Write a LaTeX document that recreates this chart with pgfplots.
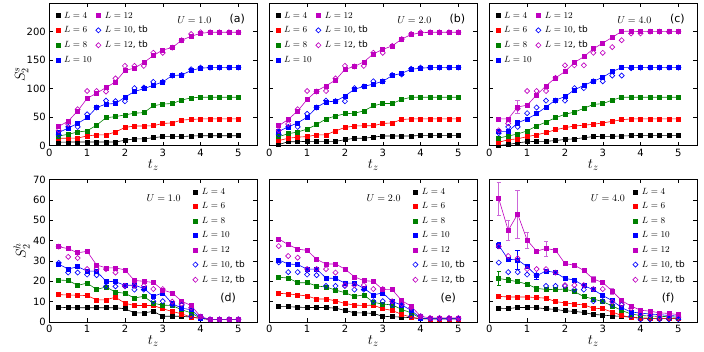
\documentclass[border=0pt]{standalone}
\usepackage{fontspec}
\setmainfont{DejaVu Sans}
\usepackage{pgfplots}
\usepackage{pgfplotstable}
\pgfplotsset{compat=1.18}

\definecolor{mg}{rgb}{0,0.5,0}
\definecolor{mm}{rgb}{0.75,0,0.75}
\definecolor{errm}{rgb}{0.8,0.4,0.85}

% columns: t, L=4, L=6, L=8, L=10, L=12, L=10 tb, L=12 tb
\pgfplotstableread{
t    a4   a6   a8   a10  a12   b10  b12
0.25 6    13   17   23   34    19   27
0.50 6.5  13   20   31   43    33   38
0.75 6.5  13.5 24   39   61    33   64
1.00 6.5  17   26   49   83    55   96
1.25 6.5  19   36   67   92    67   96
1.50 6.5  19   49   73   102   79   95
1.75 6.5  24   51   74   112   78   118
2.00 9.5  32   54   85   132   78   140
2.25 12   34.5 57   95   136   101  140
2.50 12   34.5 58   100  146   102  140
2.75 14   35   70   106  158   112  163
3.00 16   39   73   112  168   112  163
3.25 16   40   74   123  172   123  172
3.50 16   45   80   124  185   124  185
3.75 17   46   84   132  192   134  196
4.00 17.5 47   85   136  197   137  199
4.25 17.5 47   85   137  199   137  199
4.50 17.5 47   85   137  199   137  199
4.75 17.5 47   85   137  199   137  199
5.00 17.5 47   85   137  199   137  199
}\tabA

\pgfplotstableread{
t    a4   a6   a8   a10  a12   b10  b12
0.25 2    9    16   25   35    20   27
0.50 7    13   21   33   46    33   38
0.75 7    15   24   40   61    33   64
1.00 7.6  16   29   50   81    56   96
1.25 7.6  19   37   67   96    67   95
1.50 7.6  19   47   77   105   79   96
1.75 7.6  26   52   78   115   78   118
2.00 10.5 32   56   87   134   78   140
2.25 13   34.5 57   99   139   101  139
2.50 13   35   61   104  147   104  140
2.75 15   35   70   108  161   113  163
3.00 17   39   74   113  169   113  163
3.25 17   40   74   123  175   124  175
3.50 17   46   81   127  187   125  187
3.75 17   47   85   134  195   135  196
4.00 18   47   85   136  198   137  199
4.25 18   47   85   137  199   137  199
4.50 18   47   85   137  199   137  199
4.75 18   47   85   137  199   137  199
5.00 18   47   85   137  199   137  199
}\tabB

\pgfplotstableread{
t    a4   a6   a8   a10  a12   b10  b12
0.25 0.5  6    13.5 25   47    22   27
0.50 2    10.5 17   25   47    33   39
0.75 5    12   20.5 40   68    33   65
1.00 7    16   26   47   71    57   96
1.25 7.6  19   34.5 56   89    67   96
1.50 7.6  23   41.5 68   105   79   96
1.75 9    28   49   80   119   79   119
2.00 11   31.5 55   86   130   79   141
2.25 12   34.5 59   98   146   101  141
2.50 14   36   65.5 106  156   101  141
2.75 16   37.5 72.5 113  170   113  163
3.00 16.4 40   73.7 120  180   113  163
3.25 16.4 42.7 80   130  190   123  173
3.50 17   45.6 85   137  200.5 123  185
3.75 17.5 47   85   137  201   136  197
4.00 18   47   85   137  200   137  197
4.25 18   47   85   137  200   137  200
4.50 18   47   85   137  200   137  200
4.75 18   47   85   137  200   137  200
5.00 18   47   85   137  200   137  200
}\tabC

\pgfplotstableread{
t    a4   a6   a8   a10  a12   b10  b12
0.25 7.3  13.4 20.6 28.4 37    29   37
0.50 7    13.3 20.4 26   36    24.3 32
0.75 7    13.1 18   27.2 34    24.3 31.4
1.00 7    13   19.1 25   34.7  23.3 26
1.25 7    10.9 16   25   28    23   26
1.50 7    10.9 17.2 20   26.6  17.5 26
1.75 7    12.2 14.7 19.8 26.6  17.5 24.3
2.00 6.5  9.2  14.1 18   25.6  17.5 17.8
2.25 4.5  8.1  11.8 18.1 20.4  15.9 17.8
2.50 4.5  8.1  12.6 16.5 20    15.9 17.8
2.75 5.2  8.1  9.2  12.6 19.4  10.2 16.2
3.00 2.8  6.5  8.3  14.3 15.7  10.2 16.2
3.25 2.8  5.2  8.1  9    14.3  8.4  10
3.50 2.8  4    6    6.8  10.2  8.4  9
3.75 2.4  2.4  4.5  6    8.1   2.8  7
4.00 1.8  1.8  1.8  2    2.6   2.6  2.6
4.25 1.3  1.3  1.3  1.3  1.3   1.3  1.3
4.50 1.3  1.3  1.3  1.3  1.3   1.3  1.3
4.75 1.3  1.3  1.3  1.3  1.3   1.3  1.3
5.00 1.3  1.3  1.3  1.3  1.3   1.3  1.3
}\tabD

\pgfplotstableread{
t    a4   a6   a8   a10  a12   b10  b12
0.25 7.6  14.1 22   30.5 40.8  29.3 37.3
0.50 7.5  13.8 21.6 28.5 38    24.5 32.4
0.75 7.3  13.3 19.3 28.2 35.8  24.5 31.6
1.00 7.1  12.8 19.3 26   35.2  23.3 26
1.25 7.1  11.3 17.7 26   30.8  23   26
1.50 7.1  11.3 17.2 21.6 28.5  17.7 26
1.75 6.8  10.4 15.7 21.4 28.5  17.7 24.3
2.00 5.7  9.1  14.4 19.1 26    17.7 18.1
2.25 4.5  8.3  12.6 19.1 22.2  15.9 18.1
2.50 4.5  8.1  13.3 16.5 20.3  15.9 18.1
2.75 4.2  8.3  9.7  13.3 20    10.2 16.2
3.00 2.8  6.5  8.8  14.3 15.9  10.2 16.2
3.25 2.6  5.7  8.4  10   15.9  8.4  10.2
3.50 2.4  3.7  6.2  8.4  10.5  8.4  8.8
3.75 2.1  2.4  4.5  5.7  7.8   2.8  7
4.00 1.6  1.6  1.8  2    2.8   2.8  2.8
4.25 1.5  1.5  1.6  1.6  2     1.6  2
4.50 1.5  1.5  1.6  1.6  2     1.6  2
4.75 1.5  1.5  1.6  1.6  2     1.6  2
5.00 1.5  1.5  1.6  1.6  2     1.6  2
}\tabE

\pgfplotstableread{
t    a4   a6   a8   a10  a12   b10  b12
0.25 6.8  12.6 21.4 37.6 60.6  29.2 37.1
0.50 6.6  12.3 20.6 30.8 45    24.5 32.4
0.75 7.1  12.3 19.8 30.5 53    24.5 31.3
1.00 7.1  12.3 18.6 27.2 40.2  23.3 26
1.25 7    12   16.5 22.7 34.8  23   26
1.50 6.5  11.7 16   25.1 36.1  17.7 26
1.75 6.2  10   15.9 24.3 35.3  17.7 24.3
2.00 5.5  9.4  16.2 21.4 28.7  17.7 18.1
2.25 5.2  8.8  14.9 20.6 27.9  15.9 18.1
2.50 4.7  8.4  12.5 17.8 25.3  15.9 18.1
2.75 3.7  6.8  11.3 15.9 21.1  10.2 16.2
3.00 3.4  6.5  10   13   19.4  10.2 16.2
3.25 3    4.9  7.9  10.5 15.2  8.4  10
3.50 2.8  3.2  5.7  7    10.5  8.4  8.8
3.75 2.3  2.3  3.9  4.9  7.8   2.8  6.8
4.00 1.9  1.9  3.2  4.4  5.8   1.3  3.9
4.25 1.8  1.8  2.9  3.9  5.3   1.3  3.2
4.50 1.8  1.8  2.8  3.6  4.5   1.3  2.4
4.75 1.8  1.8  2.6  3.2  4.2   1.3  2.4
5.00 1.8  1.8  2.3  2.9  3.6   1.3  2.4
}\tabF

\pgfplotsset{
  s4/.style={black, line width=0.6pt, mark=square*, mark size=2pt, mark options={solid}},
  s6/.style={red, line width=0.6pt, mark=square*, mark size=2pt, mark options={solid}},
  s8/.style={mg, line width=0.6pt, mark=square*, mark size=2pt, mark options={solid}},
  s10/.style={blue, line width=0.6pt, mark=square*, mark size=2pt, mark options={solid}},
  s12/.style={mm, line width=0.6pt, mark=square*, mark size=2pt, mark options={solid}},
  t10/.style={blue, only marks, mark=square, mark size=1.8pt, mark options={rotate=45, line width=0.65pt}},
  t12/.style={mm, only marks, mark=square, mark size=1.8pt, mark options={rotate=45, line width=0.65pt}},
  panel/.style={
    scale only axis, width=208pt, height=142.5pt,
    anchor=south west,
    xmin=0, xmax=5.5, xtick={0,1,...,5},
    tick align=inside, major tick length=4pt,
    axis line style={line width=0.6pt},
    tick style={black, line width=0.5pt},
    tick label style={font=\fontsize{10}{12}\selectfont},
    /pgf/number format/assume math mode=true,
    xlabel={$t_z$},
    xlabel style={font=\fontsize{14}{16}\selectfont, yshift=4pt},
    ylabel style={font=\fontsize{14}{16}\selectfont, at={(axis description cs:-0.133,0.5)}, anchor=center},
    legend image code/.code={\draw[##1] plot coordinates {(0.1cm,0cm)};},
  },
  toppanel/.style={ymin=0, ymax=250, ytick={0,50,...,200}},
  botpanel/.style={ymin=0, ymax=70, ytick={0,10,...,70}},
  toplegend/.style={legend columns=2, legend cell align=left,
    legend style={draw=none, fill=none, at={(rel axis cs:0,1)}, anchor=north west,
      xshift=3.5pt, yshift=-4.5pt,
      font=\fontsize{9}{10}\selectfont, row sep=2.6pt,
      /tikz/every odd column/.append style={column sep=2pt},
      /tikz/every even column/.append style={column sep=2pt}}},
  botlegend/.style={legend cell align=left,
    legend style={draw=none, fill=none, at={(rel axis cs:0.675,1)}, anchor=north west,
      yshift=-4.5pt,
      font=\fontsize{9}{10}\selectfont, row sep=2.8pt,
      /tikz/every odd column/.append style={column sep=2pt}}},
}

\newcommand\drawall[1]{%
  \addplot[s4, forget plot] table[x=t, y=a4] {#1};
  \addplot[s6, forget plot] table[x=t, y=a6] {#1};
  \addplot[s8, forget plot] table[x=t, y=a8] {#1};
  \addplot[s10, forget plot] table[x=t, y=a10] {#1};
  \addplot[s12, forget plot] table[x=t, y=a12] {#1};
  \addplot[t10, forget plot] table[x=t, y=b10] {#1};
  \addplot[t12, forget plot] table[x=t, y=b12] {#1};
}
\newcommand\toplegendentries{%
  \addlegendimage{s4}\addlegendentry{$L=4$}
  \addlegendimage{s12}\addlegendentry{$L=12$}
  \addlegendimage{s6}\addlegendentry{$L=6$}
  \addlegendimage{t10}\addlegendentry{$L=10$, tb}
  \addlegendimage{s8}\addlegendentry{$L=8$}
  \addlegendimage{t12}\addlegendentry{$L=12$, tb}
  \addlegendimage{s10}\addlegendentry{$L=10$}
}
\newcommand\botlegendentries{%
  \addlegendimage{s4}\addlegendentry{$L=4$}
  \addlegendimage{s6}\addlegendentry{$L=6$}
  \addlegendimage{s8}\addlegendentry{$L=8$}
  \addlegendimage{s10}\addlegendentry{$L=10$}
  \addlegendimage{s12}\addlegendentry{$L=12$}
  \addlegendimage{t10}\addlegendentry{$L=10$, tb}
  \addlegendimage{t12}\addlegendentry{$L=12$, tb}
}
\newcommand\ulabel[2]{\node[font=\fontsize{10}{12}\selectfont] at (rel axis cs:#1) {#2};}
\newcommand\plabel[2]{\node[font=\fontsize{11}{13}\selectfont] at (rel axis cs:#1) {#2};}

\begin{document}
\begin{tikzpicture}
\path[use as bounding box] (0,0) rectangle (704pt,352pt);

% (a)
\begin{axis}[panel, toppanel, toplegend, at={(49.3pt,206.3pt)}, ylabel={$S_2^s$}]
\drawall{\tabA}
\toplegendentries
\ulabel{0.697,0.883}{$U=1.0$}
\plabel{0.904,0.89}{(a)}
\end{axis}

% (b)
\begin{axis}[panel, toppanel, toplegend, at={(269.3pt,206.3pt)}, yticklabels={}]
\drawall{\tabB}
\toplegendentries
\ulabel{0.697,0.883}{$U=2.0$}
\plabel{0.904,0.89}{(b)}
\end{axis}

% (c)
\begin{axis}[panel, toppanel, toplegend, at={(489.3pt,206.3pt)}, yticklabels={}]
\addplot[draw=none, forget plot, error bars/.cd, y dir=both, y explicit,
  error bar style={errm, line width=0.6pt}, error mark options={rotate=90, errm, mark size=2.2pt}]
  coordinates {(0.5,47) +- (0,3) (0.75,68) +- (0,11)};
\addplot[draw=none, forget plot, error bars/.cd, y dir=both, y explicit,
  error bar style={blue, line width=0.6pt}, error mark options={rotate=90, blue, mark size=2.2pt}]
  coordinates {(0.75,40) +- (0,4)};
\drawall{\tabC}
\toplegendentries
\ulabel{0.697,0.883}{$U=4.0$}
\plabel{0.904,0.89}{(c)}
\end{axis}

% (d)
\begin{axis}[panel, botpanel, botlegend, at={(49.3pt,30pt)}, ylabel={$S_2^h$}]
\drawall{\tabD}
\botlegendentries
\ulabel{0.55,0.87}{$U=1.0$}
\plabel{0.86,0.165}{(d)}
\end{axis}

% (e)
\begin{axis}[panel, botpanel, botlegend, at={(269.3pt,30pt)}, yticklabels={}]
\drawall{\tabE}
\botlegendentries
\ulabel{0.55,0.87}{$U=2.0$}
\plabel{0.86,0.165}{(e)}
\end{axis}

% (f)
\begin{axis}[panel, botpanel, botlegend, at={(489.3pt,30pt)}, yticklabels={}]
\addplot[draw=none, forget plot, error bars/.cd, y dir=both, y explicit,
  error bar style={errm, line width=0.6pt}, error mark options={rotate=90, errm, mark size=2.2pt}]
  coordinates {(0.25,60.6) +- (0,8) (0.5,45) +- (0,5) (0.75,53) +- (0,11.7)
    (1,40.2) +- (0,4) (1.25,34.8) +- (0,0.8) (1.5,36.1) +- (0,3.8)
    (2.75,21.1) +- (0,1.5) (3.25,15.2) +- (0,1.5)};
\addplot[draw=none, forget plot, error bars/.cd, y dir=both, y explicit,
  error bar style={blue, line width=0.6pt}, error mark options={rotate=90, blue, mark size=2.2pt}]
  coordinates {(0.25,37.6) +- (0,1.5) (0.75,30.5) +- (0,4.7) (1,27.2) +- (0,1) (1.25,22.7) +- (0,1.5)};
\addplot[draw=none, forget plot, error bars/.cd, y dir=both, y explicit,
  error bar style={mg, line width=0.6pt}, error mark options={rotate=90, mg, mark size=2.2pt}]
  coordinates {(0.25,21.4) +- (0,3.4) (0.5,20.6) +- (0,1.2) (1.25,16.5) +- (0,1.2)};
\drawall{\tabF}
\botlegendentries
\ulabel{0.57,0.87}{$U=4.0$}
\plabel{0.86,0.165}{(f)}
\end{axis}
\end{tikzpicture}
\end{document}
